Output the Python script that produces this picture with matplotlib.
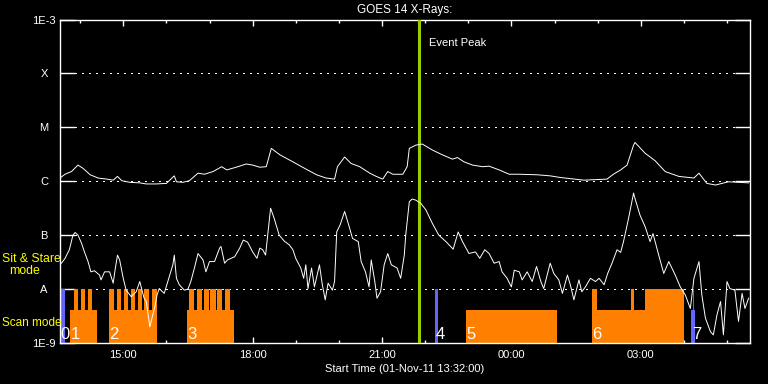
#!/usr/bin/env python

import datetime as dt
import numpy as np
import matplotlib
matplotlib.use('Agg')
import matplotlib.pyplot as plt
import matplotlib.dates as mdates

plt.rcParams['font.family'] = ['Liberation Sans', 'DejaVu Sans']

start = dt.datetime(2011, 11, 1, 13, 32)
span_min = 960

#### GOES 1-8 A (upper) and 0.5-4 A (lower), minutes after start, log10 flux
upper_min = [1, 7, 16, 25, 32, 42, 53, 65, 74, 80, 86, 97, 111, 120, 134, 148, 159, 162, 171, 180,
             192, 201, 213, 225, 232, 245, 259, 268, 278, 287, 294, 306, 324, 343, 357, 370, 382, 386, 396, 405,
             417, 431, 440, 449, 456, 463, 477, 483, 486, 495, 504, 518, 532, 546, 553, 562, 574, 588, 597, 611,
             625, 639, 664, 682, 696, 729, 761, 770, 780, 789, 798, 800, 814, 828, 842, 861, 882, 889, 900, 912,
             930, 958]
upper_log = [-5.93, -5.87, -5.82, -5.70, -5.76, -5.88, -5.94, -5.96, -5.98, -5.91, -5.99, -6.02, -6.03, -6.05, -6.05, -6.04, -5.90, -6.01, -6.02, -5.99,
             -5.85, -5.87, -5.82, -5.73, -5.79, -5.74, -5.68, -5.70, -5.74, -5.73, -5.39, -5.51, -5.64, -5.78, -5.88, -5.94, -5.96, -5.73, -5.55, -5.67,
             -5.73, -5.85, -5.91, -5.96, -5.82, -5.87, -5.87, -5.73, -5.39, -5.33, -5.31, -5.42, -5.51, -5.59, -5.56, -5.64, -5.70, -5.73, -5.72, -5.79,
             -5.87, -5.87, -5.88, -5.90, -5.93, -5.98, -5.96, -5.87, -5.79, -5.70, -5.33, -5.28, -5.48, -5.62, -5.82, -5.91, -5.94, -5.85, -6.04, -6.07,
             -6.01, -6.03]

lower_min = [2, 7, 13, 18, 21, 25, 30, 34, 39, 43, 48, 55, 57, 62, 69, 74, 77, 80, 83, 88,
             92, 99, 106, 111, 117, 120, 125, 129, 132, 135, 138, 145, 150, 157, 159, 162, 166, 173, 178, 182,
             187, 192, 199, 203, 208, 215, 222, 224, 229, 233, 243, 250, 255, 261, 268, 274, 278, 282, 286, 289,
             293, 298, 305, 312, 319, 324, 328, 335, 339, 342, 345, 350, 354, 361, 365, 369, 373, 379, 382, 385,
             390, 396, 401, 407, 415, 419, 425, 430, 433, 438, 441, 446, 451, 456, 461, 469, 474, 479, 481, 486,
             490, 495, 502, 509, 518, 527, 537, 547, 554, 560, 569, 578, 584, 591, 597, 604, 611, 615, 622, 628,
             632, 639, 643, 650, 657, 663, 669, 673, 682, 687, 694, 699, 706, 710, 715, 722, 726, 731, 738, 745,
             750, 757, 762, 768, 775, 780, 784, 791, 798, 800, 807, 814, 821, 825, 828, 833, 840, 847, 856, 863,
             870, 877, 882, 889, 893, 898, 905, 909, 914, 919, 923, 928, 932, 939, 944, 949, 953, 958]
lower_log = [-7.52, -7.43, -7.27, -7.00, -6.95, -7.00, -7.15, -7.31, -7.49, -7.68, -7.66, -7.74, -7.83, -7.68, -7.68, -7.89, -7.61, -7.37, -7.46, -7.80,
             -8.02, -8.14, -8.05, -7.86, -8.17, -8.23, -8.70, -8.48, -8.33, -8.11, -7.99, -8.08, -7.86, -7.55, -7.37, -7.80, -7.92, -8.02, -8.00, -7.86,
             -7.61, -7.34, -7.46, -7.68, -7.49, -7.49, -7.24, -7.21, -7.52, -7.46, -7.40, -7.24, -7.09, -7.13, -7.31, -7.43, -7.24, -7.27, -7.37, -7.00,
             -6.50, -6.69, -7.00, -7.11, -7.18, -7.27, -7.43, -7.61, -7.80, -7.55, -7.99, -7.61, -7.96, -7.55, -7.92, -8.20, -7.89, -8.02, -7.86, -6.94,
             -6.80, -6.56, -6.78, -7.06, -7.12, -7.49, -7.68, -7.96, -7.46, -7.86, -8.17, -8.05, -7.55, -7.34, -7.55, -7.61, -7.80, -7.37, -7.00, -6.38,
             -6.33, -6.35, -6.41, -6.53, -6.78, -7.00, -7.12, -7.26, -6.94, -7.12, -7.34, -7.31, -7.43, -7.27, -7.34, -7.52, -7.49, -7.68, -7.80, -7.96,
             -7.65, -7.68, -7.83, -7.68, -7.86, -7.58, -7.86, -7.99, -7.52, -7.71, -7.83, -8.08, -7.74, -7.92, -8.20, -7.83, -8.05, -7.96, -7.80, -7.86,
             -7.80, -7.92, -7.71, -7.52, -7.27, -7.32, -7.12, -6.69, -6.22, -6.32, -6.63, -6.84, -7.12, -6.97, -7.12, -7.37, -7.71, -7.49, -7.74, -7.96,
             -8.11, -8.36, -7.80, -7.49, -8.11, -8.54, -8.79, -8.85, -8.48, -8.23, -8.85, -7.86, -7.99, -8.02, -8.60, -8.08, -8.36, -8.17]

#### observing modes (minutes after start)
scan_start = [14, 68, 176, 565, 740]
scan_end = [52, 135, 242, 692, 868]
scan_tall_start = [19.5, 29, 38.5, 68, 79, 89, 98.5, 108, 117.5, 128, 180, 190, 200, 209, 219, 229, 740, 794.5, 814]
scan_tall_end = [25.5, 35, 45, 75, 85, 94.5, 104, 113.5, 123.5, 135, 186.5, 197, 207, 216.5, 226, 237, 747, 799, 868]
stare_start = [0, 522, 880.5]
stare_end = [7, 526.5, 882]
stare_low_start = [878.5]
stare_low_end = [883]
obs_labels = ['0', '1', '2', '3', '4', '5', '6', '7']
obs_label_min = [1, 14.5, 68.5, 176.5, 522, 565, 740.5, 879.5]
event_peak_min = 499

levels = [1e-9, 1e-8, 1e-7, 1e-6, 1e-5, 1e-4, 1e-3]
level_labels = ['1E-9', 'A', 'B', 'C', 'M', 'X', '1E-3']
tall_top = 1e-8
short_top = 4.1e-9

t0 = mdates.date2num(start)
def tx(m):
    return t0 + np.asarray(m, dtype=float) / 1440.0

orange = '#ff8000'
blue = '#6464ff'
green = '#9acd00'

fig = plt.figure(figsize=(7.68, 3.84), dpi=100, facecolor='black')
ax = fig.add_axes([60/768, 1 - 343/384, 690/768, (343 - 19.5)/384], facecolor='black')
ax.set_yscale('log')
ax.set_ylim(1e-9, 1e-3)
ax.set_xlim(tx(0), tx(span_min))

# scan / stare mode bars
def bars(s, e, top, col):
    s = tx(s); e = tx(e)
    ax.bar(s, top - 1e-9, width=e - s, bottom=1e-9, align='edge', color=col, linewidth=0, zorder=2)

bars(scan_start, scan_end, short_top, orange)
bars(scan_tall_start, scan_tall_end, tall_top, orange)
bars(stare_start, stare_end, tall_top, blue)
bars(stare_low_start, stare_low_end, short_top, blue)

for lab, m in zip(obs_labels, obs_label_min):
    ax.annotate(lab, xy=(tx(m), 1e-9), xytext=(0, 2.8), textcoords='offset points',
                ha='left', va='baseline', color='white', fontsize=12, zorder=5)

# dotted level lines
for lv in levels[1:-1]:
    ax.axhline(lv, xmin=15/690, xmax=1 - 15/690, color='white', lw=0.75,
               ls=(0, (1, 5)), zorder=1, antialiased=False)

ax.plot(tx(upper_min), 10**np.array(upper_log), color='white', lw=0.7, zorder=4)
ax.plot(tx(lower_min), 10**np.array(lower_log), color='white', lw=0.7, zorder=4)

ax.axvline(tx(event_peak_min), color=green, lw=2.2, zorder=3)
ax.annotate('Event Peak', xy=(tx(event_peak_min), 1), xycoords=('data', 'axes fraction'),
            xytext=(7.2, -16.6), textcoords='offset points', ha='left', va='center',
            color='white', fontsize=8)

#### axes styling
for sp in ax.spines.values():
    sp.set_color('white')
    sp.set_linewidth(1)

ax.xaxis.set_major_locator(mdates.HourLocator(byhour=range(0, 24, 3)))
ax.xaxis.set_minor_locator(mdates.HourLocator())
ax.xaxis.set_major_formatter(mdates.DateFormatter('%H:%M'))
ax.tick_params(axis='x', which='both', direction='in', top=True, colors='white',
               labelsize=8, pad=5)
ax.tick_params(axis='x', which='major', length=4.5, width=1)
ax.tick_params(axis='x', which='minor', length=2.4, width=1)

ax.set_yticks(levels)
ax.set_yticklabels(level_labels)
ax.yaxis.set_minor_locator(matplotlib.ticker.NullLocator())
ax.tick_params(axis='y', which='major', direction='in', right=True, length=10.8, width=1,
               colors='white', labelsize=8, pad=11.5)
for lab in ax.get_yticklabels():
    lab.set_ha('center')

ax.set_xlabel('Start Time (01-Nov-11 13:32:00)', color='white', fontsize=8, labelpad=3)
fig.text(405/768, 1 - 9.5/384, 'GOES 14 X-Rays:', color='white', fontsize=8.5,
         ha='center', va='center')

fig.text(2/768, 1 - 259/384, 'Sit & Stare', color='yellow', fontsize=8.8, ha='left', va='center')
fig.text(24.5/768, 1 - 271/384, 'mode', color='yellow', fontsize=8.8, ha='center', va='center')
fig.text(2/768, 1 - 323.5/384, 'Scan mode', color='yellow', fontsize=8.5, ha='left', va='center')

plt.savefig('out.png', dpi=100, facecolor='black')
